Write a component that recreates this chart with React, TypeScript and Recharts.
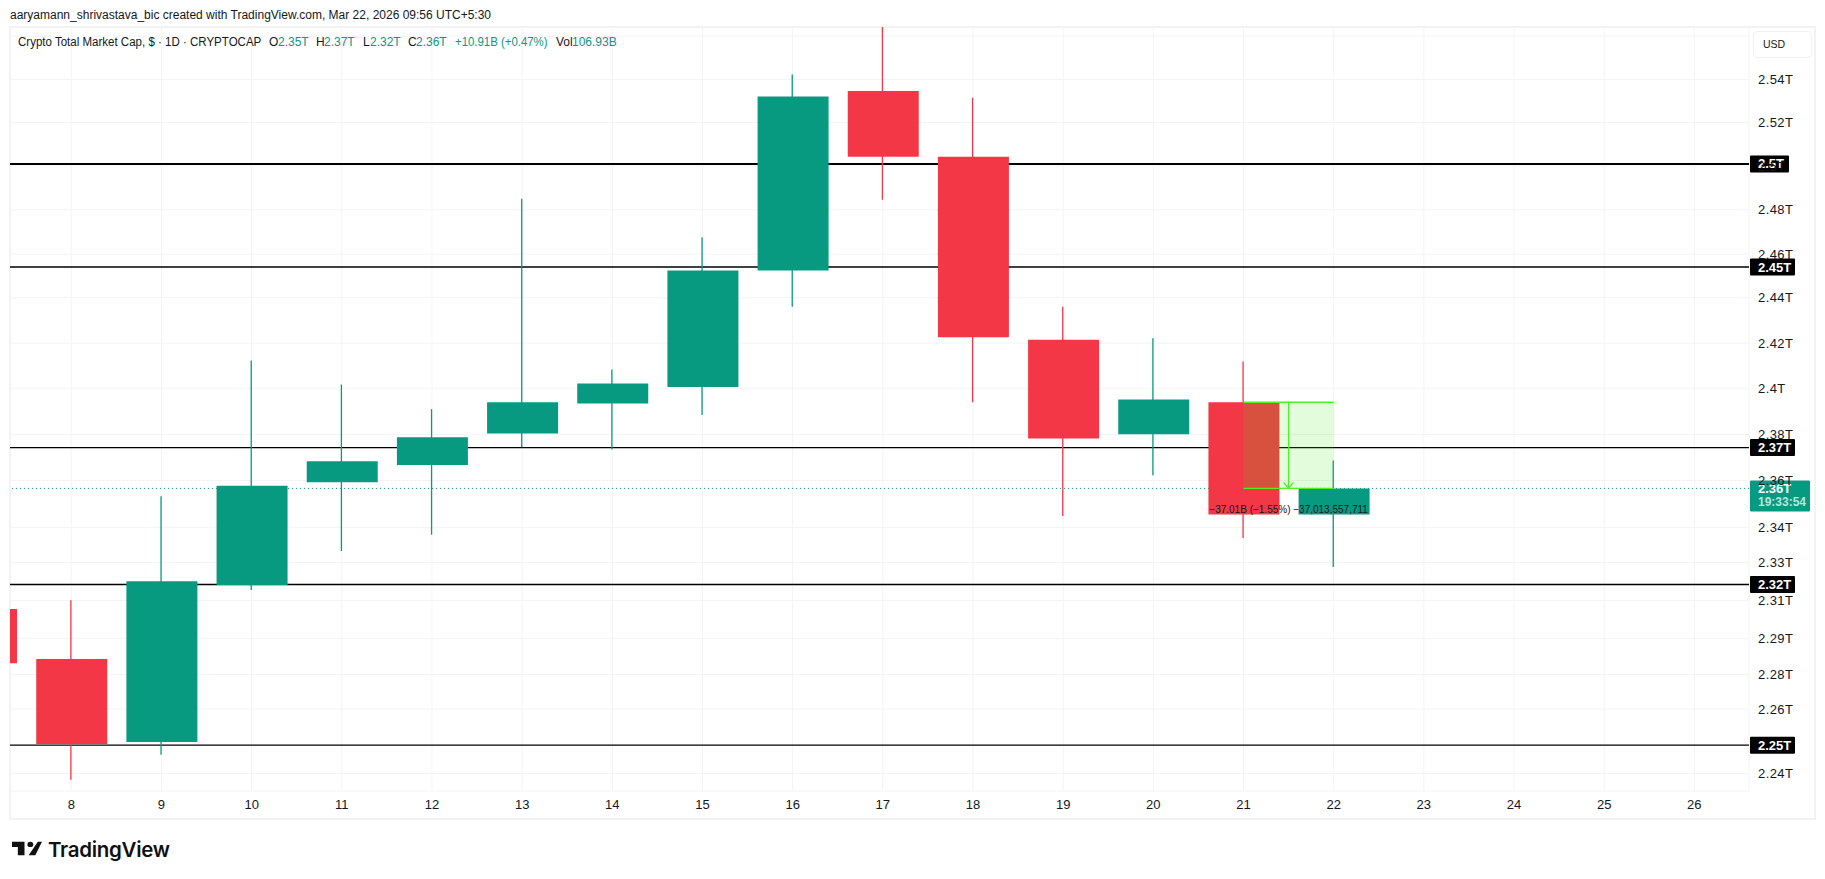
import { Bar, CartesianGrid, Cell, ComposedChart, ReferenceArea, ReferenceDot, ReferenceLine, XAxis, YAxis } from 'recharts'

// values in trillions of USD
const days = [7, 8, 9, 10, 11, 12, 13, 14, 15, 16, 17, 18, 19, 20, 21, 22]
const opens = [2.3062, 2.2854, 2.2513, 2.3163, 2.3598, 2.3672, 2.3808, 2.3937, 2.4009, 2.4521, 2.5333, 2.5032, 2.4216, 2.3804, 2.3943, 2.3461]
const highs = [2.3062, 2.3099, 2.3538, 2.4125, 2.402, 2.3913, 2.4842, 2.4085, 2.467, 2.5408, 2.5628, 2.5301, 2.4361, 2.4222, 2.412, 2.3692]
const lows = [2.2837, 2.236, 2.2461, 2.3142, 2.3306, 2.3375, 2.3748, 2.3739, 2.3888, 2.4361, 2.4838, 2.3943, 2.3454, 2.3628, 2.3361, 2.3239]
const closes = [2.2837, 2.2505, 2.3179, 2.3583, 2.3688, 2.3792, 2.3943, 2.4024, 2.4521, 2.5307, 2.5032, 2.4227, 2.3786, 2.3955, 2.3461, 2.3572]

const dayTicks = [8, 9, 10, 11, 12, 13, 14, 15, 16, 17, 18, 19, 20, 21, 22, 23, 24, 25, 26]
const priceTicks = [2.5586, 2.5385, 2.5188, 2.499, 2.4793, 2.4594, 2.4401, 2.4201, 2.4004, 2.3804, 2.3606, 2.3405, 2.3257, 2.3098, 2.294, 2.279, 2.2648, 2.2385]
const priceDomain = [2.2314, 2.5628]
const dayDomain = [7.32, 26.606]

const levels = [2.5, 2.4537, 2.3747, 2.3165, 2.25]
const levelLabels = ['2.5T', '2.45T', '2.37T', '2.32T', '2.25T']
const levelWidths = [2, 1.3, 1.3, 1.3, 1.3]

const lastPrice = 2.3572
const measureTop = 2.3943
const measureBottom = 2.3572
const measureStart = 21
const measureEnd = 22
const measureMid = 21.5
const measureTextPrice = 2.3483

const UP = '#089981'
const DOWN = '#F43747'
const MEASURE = '#50F028'
const GRID = '#F3F4F5'
const TEXT = '#131722'
const FONT = '"Liberation Sans", Arial, sans-serif'

const candles = days.map((day, i) => ({
  day,
  body: [Math.min(opens[i], closes[i]), Math.max(opens[i], closes[i])],
  wick: [lows[i], highs[i]],
  up: closes[i] >= opens[i],
}))

const formatPrice = (v: number) => `${parseFloat(v.toFixed(2))}T`

// the top tick sits behind the USD button, so it shows no text
const formatTick = (v: number) => (v > 2.55 ? '' : formatPrice(v))

const levelTag = (text: string) => (props: any) => {
  const { x, y, width } = props.viewBox
  const w = text.length > 4 ? 45 : 39
  return (
    <g>
      <rect x={x + width + 1} y={y - 8.5} width={w} height={17} rx={1} fill="#000" />
      <text x={x + width + 9} y={y + 4.5} fill="#fff" fontSize={13} fontWeight={700} fontFamily={FONT}>
        {text}
      </text>
    </g>
  )
}

const lastTag = (props: any) => {
  const { x, y, width } = props.viewBox
  return (
    <g>
      <rect x={x + width + 1} y={y - 8} width={60} height={31} rx={1} fill={UP} />
      <text x={x + width + 9} y={y + 4.5} fill="#fff" fontSize={13} fontWeight={700} fontFamily={FONT}>
        {formatPrice(lastPrice)}
      </text>
      <text x={x + width + 9} y={y + 18} fill="#B5E6DC" fontSize={12} fontWeight={700} fontFamily={FONT}>
        19:33:54
      </text>
    </g>
  )
}

const legendParts = [
  { left: 18, text: 'Crypto Total Market Cap, $ · 1D · CRYPTOCAP', color: TEXT, squeeze: 0.96 },
  { left: 269, text: 'O', color: TEXT, squeeze: 1 },
  { left: 278, text: '2.35T', color: UP, squeeze: 1 },
  { left: 316, text: 'H', color: TEXT, squeeze: 1 },
  { left: 324, text: '2.37T', color: UP, squeeze: 1 },
  { left: 363, text: 'L', color: TEXT, squeeze: 1 },
  { left: 370, text: '2.32T', color: UP, squeeze: 1 },
  { left: 408, text: 'C', color: TEXT, squeeze: 1 },
  { left: 416, text: '2.36T', color: UP, squeeze: 1 },
  { left: 455, text: '+10.91B (+0.47%)', color: UP, squeeze: 0.95 },
  { left: 556, text: 'Vol', color: TEXT, squeeze: 1 },
  { left: 572, text: '106.93B', color: UP, squeeze: 1 },
]

export default function App() {
  return (
    <div style={{ position: 'absolute', left: 0, top: 0, width: 1825, height: 879, background: '#fff', overflow: 'hidden' }}>
      <div style={{ position: 'absolute', left: 10, top: 8, fontFamily: FONT, fontSize: 12, color: TEXT, whiteSpace: 'nowrap' }}>
        aaryamann_shrivastava_bic created with TradingView.com, Mar 22, 2026 09:56 UTC+5:30
      </div>

      <div style={{ position: 'absolute', left: 9, top: 26, width: 1803, height: 790, border: '2px solid #F2F2F3' }} />

      <ComposedChart
        style={{ position: 'absolute', left: 0, top: 0 }}
        width={1825}
        height={879}
        data={candles}
        margin={{ top: 27, left: 10, right: 10, bottom: 61 }}
      >
        <CartesianGrid stroke={GRID} />
        <XAxis
          type="number"
          dataKey="day"
          domain={dayDomain}
          ticks={dayTicks}
          interval={0}
          allowDataOverflow
          height={27}
          axisLine={false}
          tickLine={false}
          tickMargin={3}
          tick={{ fontSize: 13, fill: TEXT, fontFamily: FONT }}
        />
        <XAxis xAxisId="wick" type="number" dataKey="day" domain={dayDomain} allowDataOverflow hide />
        <YAxis
          orientation="right"
          scale="log"
          domain={priceDomain}
          ticks={priceTicks}
          interval={0}
          allowDataOverflow
          width={66}
          axisLine={false}
          tickLine={false}
          tickMargin={3}
          tickFormatter={formatTick}
          tick={{ fontSize: 13, fill: TEXT, fontFamily: FONT, textAnchor: 'start', letterSpacing: 0.4 }}
        />

        {levels.map((level, i) => (
          <ReferenceLine key={level} y={level} stroke="#000" strokeWidth={levelWidths[i]} zIndex={50} label={levelTag(levelLabels[i])} />
        ))}
        <ReferenceLine y={lastPrice} stroke={UP} strokeDasharray="1 3" zIndex={50} label={lastTag} />

        <Bar xAxisId="wick" dataKey="wick" barSize={1.3} isAnimationActive={false}>
          {candles.map((c) => (
            <Cell key={c.day} fill={c.up ? UP : DOWN} />
          ))}
        </Bar>
        <Bar dataKey="body" barSize={71} isAnimationActive={false}>
          {candles.map((c) => (
            <Cell key={c.day} fill={c.up ? UP : DOWN} />
          ))}
        </Bar>

        <ReferenceArea x1={measureStart} x2={measureEnd} y1={measureBottom} y2={measureTop} fill="#3DEB14" fillOpacity={0.15} stroke="none" zIndex={900} />
        <ReferenceLine segment={[{ x: measureStart, y: measureTop }, { x: measureEnd, y: measureTop }]} stroke={MEASURE} strokeWidth={1.3} zIndex={900} />
        <ReferenceLine segment={[{ x: measureStart, y: measureBottom }, { x: measureEnd, y: measureBottom }]} stroke={MEASURE} strokeWidth={1.3} zIndex={900} />
        <ReferenceLine segment={[{ x: measureMid, y: measureTop }, { x: measureMid, y: measureBottom }]} stroke={MEASURE} strokeWidth={1.3} zIndex={900} />
        <ReferenceLine segment={[{ x: measureMid - 0.055, y: 2.3598 }, { x: measureMid, y: measureBottom }]} stroke={MEASURE} strokeWidth={1.3} zIndex={900} />
        <ReferenceLine segment={[{ x: measureMid + 0.055, y: 2.3598 }, { x: measureMid, y: measureBottom }]} stroke={MEASURE} strokeWidth={1.3} zIndex={900} />
        <ReferenceDot
          x={measureMid}
          y={measureTextPrice}
          r={0}
          stroke="none"
          label={{ value: '−37.01B (−1.55%)  −37,013,557,711', position: 'center', fontSize: 10, fill: TEXT, fontFamily: FONT }}
        />
      </ComposedChart>

      {legendParts.map((p) => (
        <div
          key={p.left}
          style={{
            position: 'absolute',
            left: p.left,
            top: 35,
            fontFamily: FONT,
            fontSize: 12,
            color: p.color,
            whiteSpace: 'nowrap',
            transform: `scaleX(${p.squeeze})`,
            transformOrigin: 'left',
          }}
        >
          {p.text}
        </div>
      ))}

      <div
        style={{
          position: 'absolute',
          left: 1753,
          top: 31,
          width: 57,
          height: 25,
          border: '1px solid #F0F1F3',
          borderRadius: 4,
          background: '#fff',
          fontFamily: FONT,
          fontSize: 10.5,
          lineHeight: '25px',
          color: TEXT,
          textIndent: 9,
        }}
      >
        USD
      </div>

      <svg style={{ position: 'absolute', left: 12, top: 841 }} width={30} height={15} viewBox="0 0 36 20" preserveAspectRatio="none">
        <path d="M0 1h15v18H7V8H0z M31 1h5l-8 18h-8z" fill="#111" />
        <circle cx="22" cy="4.5" r="3.5" fill="#111" />
      </svg>
      <div style={{ position: 'absolute', left: 48, top: 837, fontFamily: '"Inter", sans-serif', fontSize: 20.5, fontWeight: 600, letterSpacing: -0.3, color: '#111', whiteSpace: 'nowrap' }}>
        TradingView
      </div>
    </div>
  )
}
